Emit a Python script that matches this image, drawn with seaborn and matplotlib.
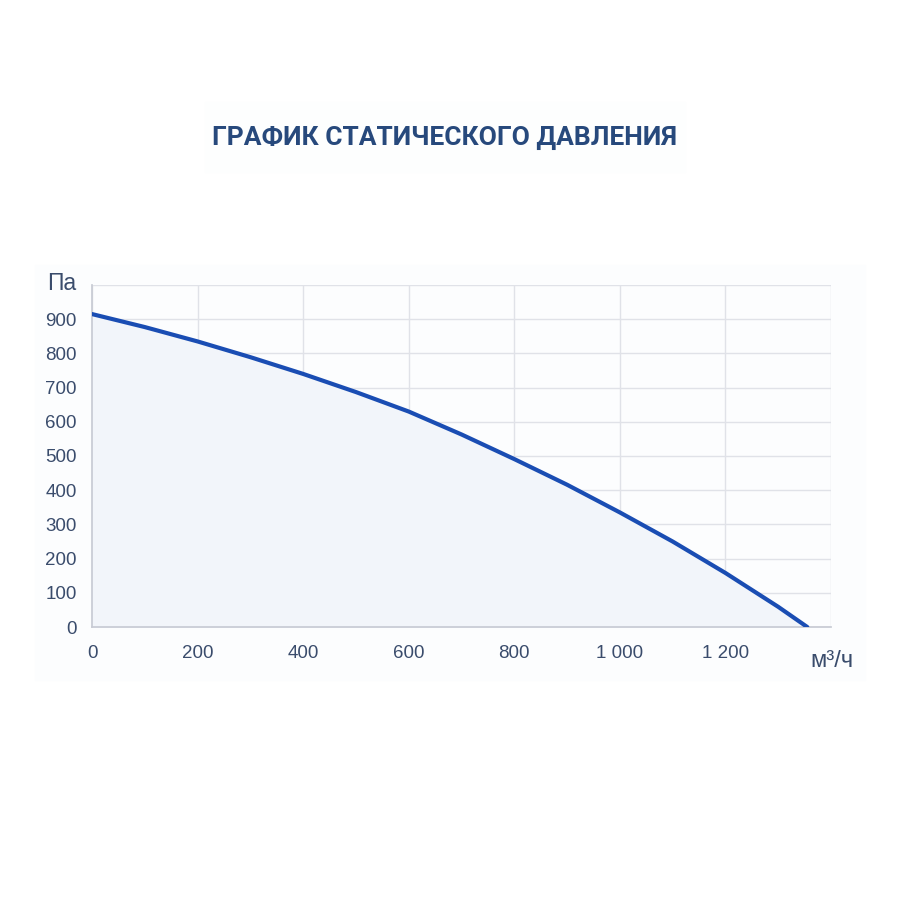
import numpy as np
import pandas as pd
import seaborn as sns
import matplotlib.pyplot as plt
from matplotlib.patches import Rectangle

# расход, м³/ч  и  статическое давление, Па
flow = [0, 100, 200, 300, 400, 500, 600, 700, 800, 900, 1000, 1100, 1200, 1300, 1355]
pressure = [915, 877, 835, 789, 740, 687, 630, 563, 491, 416, 335, 250, 158, 59, 0]

x_ticks = [0, 200, 400, 600, 800, 1000, 1200]
x_labels = ["0", "200", "400", "600", "800", "1 000", "1 200"]
y_ticks = [0, 100, 200, 300, 400, 500, 600, 700, 800, 900]

df = pd.DataFrame({"flow": flow, "pressure": pressure})

sns.set_theme(style="white")
plt.rcParams["font.family"] = ["Liberation Sans", "DejaVu Sans"]

line_col = "#1a4db3"
text_col = "#3a4c6c"
grid_col = "#e0e2e8"

fig = plt.figure(figsize=(9, 9), dpi=100)
fig.patch.set_facecolor("white")

# бледные подложки как на исходной картинке
fig.add_artist(Rectangle((35 / 900, 1 - 680 / 900), 830 / 900, 415 / 900,
                         transform=fig.transFigure, color="#fcfdfe", zorder=0))
fig.add_artist(Rectangle((205 / 900, 1 - 172 / 900), 480 / 900, 70 / 900,
                         transform=fig.transFigure, color="#fdfefe", zorder=0))

ax = fig.add_axes([92 / 900, 1 - 627 / 900, 739 / 900, 342 / 900])
ax.set_facecolor("none")

ax.fill_between(df["flow"], df["pressure"], 0, color="#f2f5fa", zorder=1)
sns.lineplot(data=df, x="flow", y="pressure", ax=ax, color=line_col,
             linewidth=3.0, zorder=3)

ax.set_xlim(0, 1400)
ax.set_ylim(0, 1000)
ax.set_xticks(x_ticks + [1400])
ax.set_xticklabels(x_labels + [""])
ax.set_yticks(y_ticks + [1000])
ax.set_yticklabels([str(v) for v in y_ticks] + [""])
ax.grid(True, color=grid_col, linewidth=1)
ax.set_axisbelow(True)
ax.tick_params(axis="both", length=0, labelsize=13.5, labelcolor=text_col)
ax.tick_params(axis="x", pad=13)
ax.tick_params(axis="y", pad=11)
ax.set_xlabel("")
ax.set_ylabel("")

for side in ["top", "right"]:
    ax.spines[side].set_visible(False)
ax.spines["left"].set_color("#c8cbd4")
ax.spines["bottom"].set_color("#c8cbd4")

fig.text(76 / 900, 1 - 284 / 900, "Па", ha="right", va="center",
         fontsize=16.5, color=text_col)
fig.text(832 / 900, 1 - 661 / 900, "м³/ч", ha="center", va="center",
         fontsize=17, color=text_col)

fig.text(445 / 900, 1 - 138 / 900, "ГРАФИК СТАТИЧЕСКОГО ДАВЛЕНИЯ",
         ha="center", va="center", fontsize=19, fontweight="bold",
         color="#27497c", family=["Roboto", "DejaVu Sans"])

fig.savefig("out.png", dpi=100)
